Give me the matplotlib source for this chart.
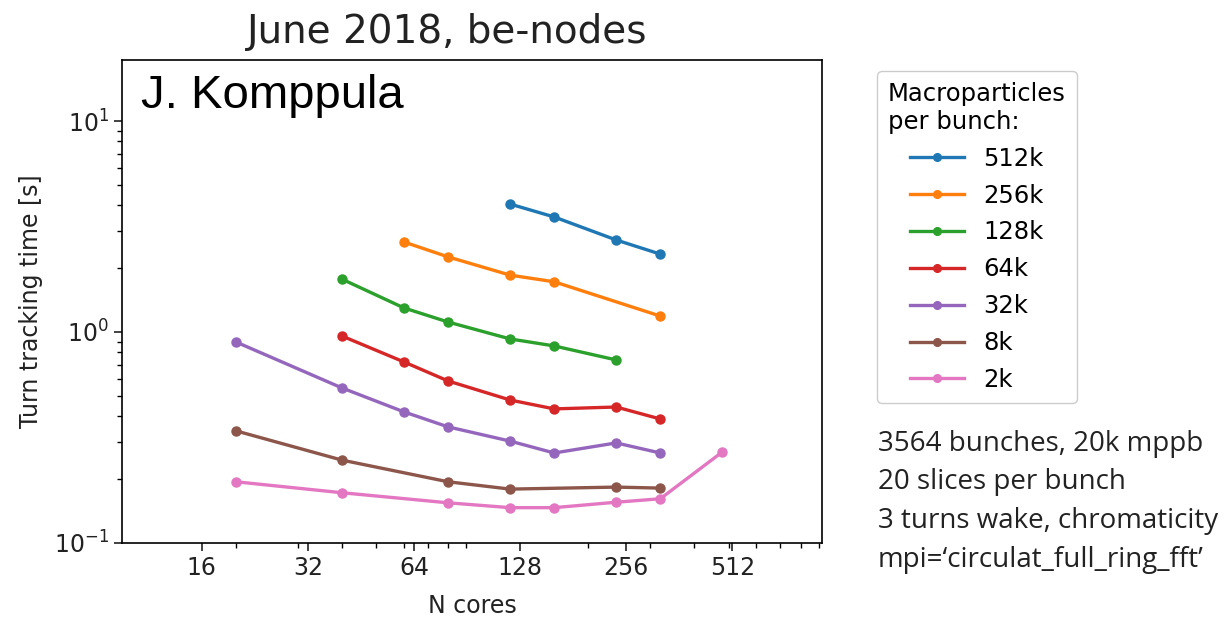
import matplotlib
matplotlib.use("Agg")
import matplotlib.pyplot as plt
from matplotlib.ticker import NullFormatter

# data (N cores vs turn tracking time in s)
labels = ["512k", "256k", "128k", "64k", "32k", "8k", "2k"]

cores_512k = [120, 160, 240, 320]
time_512k = [4.04, 3.51, 2.73, 2.34]

cores_256k = [60, 80, 120, 160, 320]
time_256k = [2.67, 2.27, 1.86, 1.73, 1.19]

cores_128k = [40, 60, 80, 120, 160, 240]
time_128k = [1.78, 1.30, 1.115, 0.927, 0.859, 0.737]

cores_64k = [40, 60, 80, 120, 160, 240, 320]
time_64k = [0.957, 0.721, 0.586, 0.476, 0.432, 0.441, 0.387]

cores_32k = [20, 40, 60, 80, 120, 160, 240, 320]
time_32k = [0.897, 0.543, 0.418, 0.355, 0.304, 0.267, 0.298, 0.267]

cores_8k = [20, 40, 80, 120, 240, 320]
time_8k = [0.340, 0.247, 0.195, 0.180, 0.184, 0.182]

cores_2k = [20, 40, 80, 120, 160, 240, 320, 480]
time_2k = [0.195, 0.173, 0.155, 0.147, 0.147, 0.156, 0.162, 0.270]

xticks = [16, 32, 64, 128, 256, 512]

series = [
    (cores_512k, time_512k),
    (cores_256k, time_256k),
    (cores_128k, time_128k),
    (cores_64k, time_64k),
    (cores_32k, time_32k),
    (cores_8k, time_8k),
    (cores_2k, time_2k),
]

fig = plt.figure(figsize=(12.28, 6.17), dpi=100)
ax = fig.add_axes([0.0993, 0.120, 0.570, 0.783])

for i, (x, y) in enumerate(series):
    ax.plot(x, y, "-o", color="C%d" % i, lw=2.4, ms=6.5, label=labels[i])

ax.set_xscale("log")
ax.set_yscale("log")
ax.set_xlim(9.5, 920)
ax.set_ylim(0.1, 19.5)
ax.set_xticks(xticks)
ax.set_xticklabels([str(t) for t in xticks])
ax.xaxis.set_minor_formatter(NullFormatter())
ax.tick_params(labelsize=17, length=6, width=1.2, colors="#222222")
ax.tick_params(which="minor", length=3.5, width=1)
for s in ax.spines.values():
    s.set_linewidth(1.2)

ax.set_xlabel("N cores", fontsize=17, labelpad=10, color="#222222")
ax.set_ylabel("Turn tracking time [s]", fontsize=17, labelpad=8, color="#222222")
ax.set_title("June 2018, be-nodes", fontsize=28, x=0.465, pad=12, color="#222222")

ax.text(0.027, 0.97, "J. Komppula", transform=ax.transAxes, va="top", ha="left",
        fontsize=34, family=["Liberation Sans", "DejaVu Sans"])

fig.legend(loc="upper left", bbox_to_anchor=(877 / 1228, 1 - 71 / 617),
           borderaxespad=0, title="Macroparticles\nper bunch:",
           fontsize=17.5, title_fontsize=17.5, labelspacing=0.53,
           handlelength=2.2, handletextpad=0.8, borderpad=0.45,
           markerscale=0.85, framealpha=1, edgecolor="#cccccc")

fig.text(878 / 1228, 1 - 430 / 617,
         "3564 bunches, 20k mppb\n20 slices per bunch\n3 turns wake, chromaticity\n"
         "mpi=\u2018circulat_full_ring_fft\u2019",
         fontsize=20, family=["Open Sans", "DejaVu Sans"], va="top", ha="left",
         linespacing=1.5, color="#222222")

fig.savefig("out.png", dpi=100)
